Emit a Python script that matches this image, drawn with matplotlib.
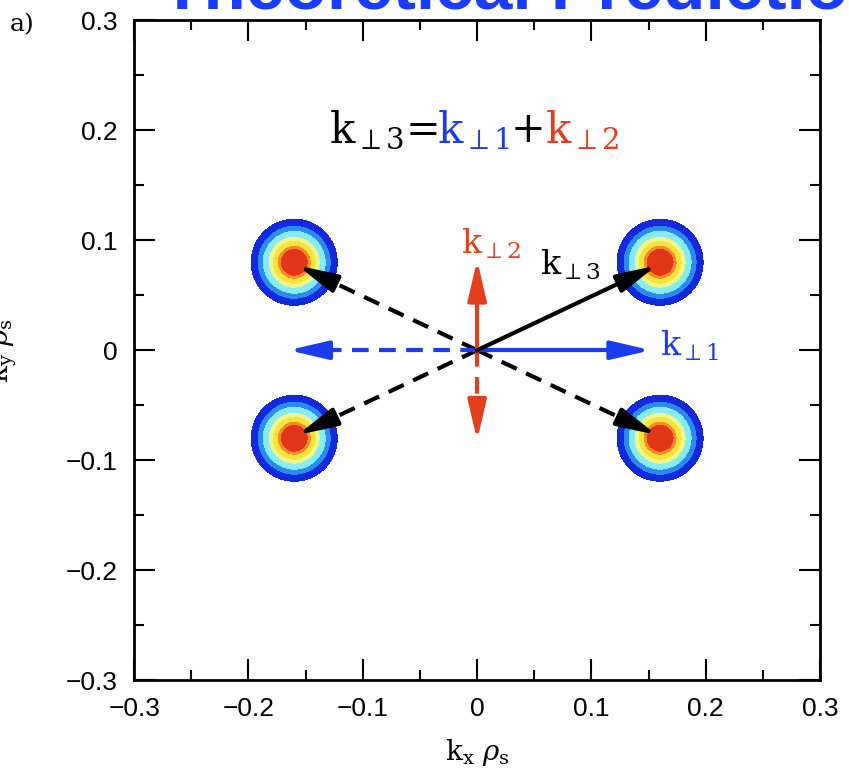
import numpy as np
import matplotlib.pyplot as plt

# spot positions in k-space (kx rho_s, ky rho_s)
spot_x = [0.16, -0.16, -0.16, 0.16]
spot_y = [0.08, 0.08, -0.08, -0.08]
# ring edges (pixels from spot centre) and ring colours, inside -> out
ring_edges = [0, 14, 17, 22, 26, 32, 37, 43]
ring_colors = ['#e2361a', '#f58a2a', '#f6e43c', '#eef68c', '#86ecf2', '#2a8cf2', '#1428dc']

# arrows: (x0, y0, x1, y1)
k1 = (0, 0, 0.152, 0)
k1_neg = (0, 0, -0.165, 0)
k2 = (0, 0, 0, 0.082)
k2_neg = (0, 0, 0, -0.082)
k3 = (0, 0, 0.157, 0.077)
k3_dash = [(0, 0, -0.157, 0.077), (0, 0, -0.157, -0.077), (0, 0, 0.157, -0.077)]

ticks = [-0.3, -0.2, -0.1, 0, 0.1, 0.2, 0.3]
ticklabels = ['\u22120.3', '\u22120.2', '\u22120.1', '0', '0.1', '0.2', '0.3']

blue = '#1a3cf0'
red = '#e0401e'

plt.rcParams['mathtext.fontset'] = 'dejavuserif'

fig = plt.figure(figsize=(8.49, 7.8), dpi=100)
ax = fig.add_axes([0.158, 0.128, 0.808, 0.846])

# spots: filled contours of distance (in pixels) from each centre
px_x = 0.6 / (0.808 * 849)
px_y = 0.6 / (0.846 * 780)
gx = np.linspace(-0.3, 0.3, 900)
gy = np.linspace(-0.3, 0.3, 900)
X, Y = np.meshgrid(gx, gy)
for cx, cy in zip(spot_x, spot_y):
    R = np.hypot((X - cx) / px_x, (Y - cy) / px_y)
    ax.contourf(X, Y, R, levels=ring_edges, colors=ring_colors, zorder=1)


def arrow(a, color, dashed=False, lw=3):
    x0, y0, x1, y1 = a
    L = np.hypot(x1 - x0, y1 - y0)
    ux, uy = (x1 - x0) / L, (y1 - y0) / L
    hl = 0.022
    ls = (0, (4, 2.5)) if dashed else '-'
    ax.plot([x0, x1 - ux * hl], [y0, y1 - uy * hl], color=color, lw=lw,
            ls=ls, zorder=3)
    ax.annotate('', xy=(x1, y1), xytext=(x1 - ux * hl, y1 - uy * hl),
                arrowprops=dict(arrowstyle='-|>,head_length=1.2,head_width=0.28',
                                mutation_scale=20, color=color, lw=lw,
                                shrinkA=0, shrinkB=0),
                zorder=4)


for a in k3_dash:
    arrow(a, 'black', dashed=True)
arrow(k1_neg, blue, dashed=True)
arrow(k2_neg, red, dashed=True)
arrow(k1, blue)
arrow(k2, red)
arrow(k3, 'black')

ax.text(-0.014, 0.097, r'$\mathrm{k}_{\perp2}$', color=red, fontsize=24,
        ha='left', va='center')
ax.text(0.055, 0.078, r'$\mathrm{k}_{\perp3}$', color='black', fontsize=24,
        ha='left', va='center')
ax.text(0.160, 0.004, r'$\mathrm{k}_{\perp1}$', color=blue, fontsize=24,
        ha='left', va='center')

# equation
eq_parts = [(r'$\mathrm{k}_{\perp3}$=', 'black'), (r'$\mathrm{k}_{\perp1}$', blue),
            ('+', 'black'), (r'$\mathrm{k}_{\perp2}$', red)]
fig.canvas.draw()
xpos = -0.13
for txt, c in eq_parts:
    t = ax.text(xpos, 0.2, txt, color=c, fontsize=30, ha='left', va='center',
                family='DejaVu Serif')
    bb = t.get_window_extent(renderer=fig.canvas.get_renderer())
    bb = bb.transformed(ax.transData.inverted())
    xpos = bb.x1

ax.set_xlim(-0.3, 0.3)
ax.set_ylim(-0.3, 0.3)
ax.set_xticks(ticks)
ax.set_yticks(ticks)
ax.set_xticklabels(ticklabels, family='Liberation Sans', fontsize=19)
ax.set_yticklabels(ticklabels, family='Liberation Sans', fontsize=19)
ax.set_xticks(np.arange(-0.25, 0.3, 0.1), minor=True)
ax.set_yticks(np.arange(-0.25, 0.3, 0.1), minor=True)
ax.tick_params(which='both', direction='in', top=True, right=True, width=1.5)
ax.tick_params(which='major', length=15, pad=12)
ax.tick_params(which='minor', length=7.5)
for s in ax.spines.values():
    s.set_linewidth(2)

ax.set_xlabel(r'k$_\mathrm{x}$ $\rho_\mathrm{s}$', fontsize=20, family='DejaVu Serif',
              labelpad=12)
ax.set_ylabel(r'k$_\mathrm{y}$ $\rho_\mathrm{s}$', fontsize=20, family='DejaVu Serif')
ax.yaxis.set_label_coords(-0.168, 0.5)

fig.text(0.012, 0.968, 'a)', fontsize=18, family='DejaVu Serif', va='center')
fig.text(0.19, 1.012, 'Theoretical Predictio', color='#1a3cff', fontsize=50,
         fontweight='bold', family='Liberation Sans', va='center')

fig.savefig('out.png', dpi=100)
